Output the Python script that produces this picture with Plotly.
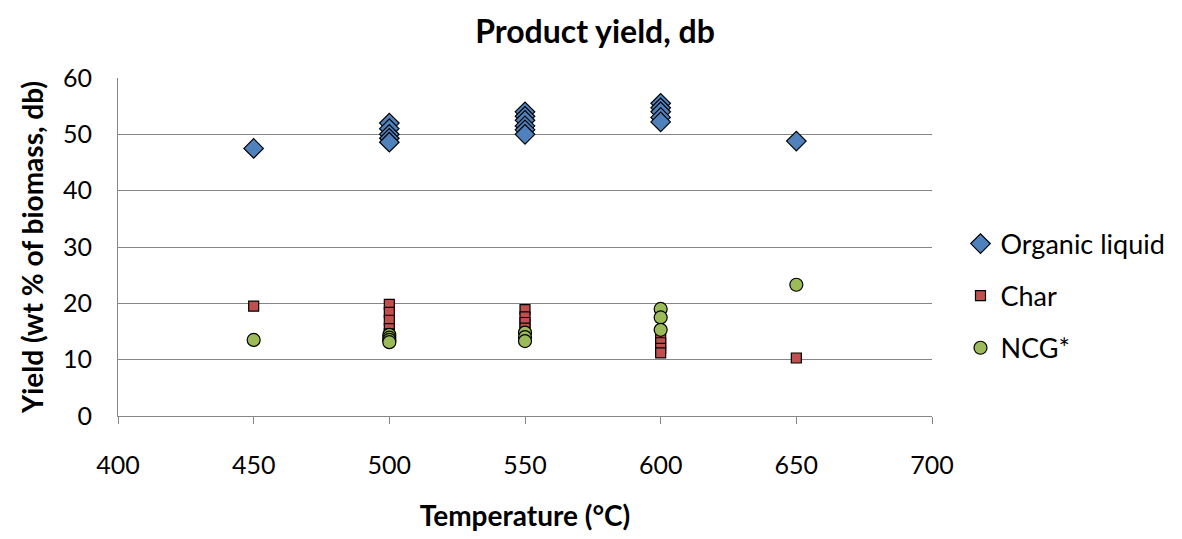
import plotly.graph_objects as go

# Data
org_x = [450, 500, 500, 500, 500, 500, 550, 550, 550, 550, 550, 550, 600, 600, 600, 600, 600, 650]
org_y = [47.5, 52.0, 51.0, 50.0, 49.3, 48.6, 54.0, 53.2, 52.5, 51.5, 50.8, 50.0, 55.5, 54.7, 54.0, 53.0, 52.2, 48.8]

char_x = [450, 500, 500, 500, 500, 500, 550, 550, 550, 550, 600, 600, 600, 600, 650]
char_y = [19.5, 19.8, 18.4, 17.0, 15.5, 14.6, 18.9, 17.6, 16.6, 15.6, 14.0, 13.0, 12.0, 11.2, 10.3]

ncg_x = [450, 500, 500, 500, 500, 550, 550, 550, 600, 600, 600, 650]
ncg_y = [13.5, 14.4, 13.9, 13.5, 13.1, 14.8, 14.0, 13.3, 19.0, 17.5, 15.3, 23.3]

x_ticks = [400, 450, 500, 550, 600, 650, 700]
y_ticks = [0, 10, 20, 30, 40, 50, 60]

FONT = "Lato, 'Open Sans', sans-serif"
GRID = "#868686"

fig = go.Figure()
fig.add_trace(go.Scatter(
    x=org_x, y=org_y, mode="markers", name="Organic liquid", legendgroup="a",
    marker=dict(symbol="diamond", size=15, color="#4F81BD", line=dict(color="black", width=1.2)),
))
fig.add_trace(go.Scatter(
    x=char_x, y=char_y, mode="markers", name="Char", legendgroup="b",
    marker=dict(symbol="square", size=10, color="#C0504D", line=dict(color="black", width=1.2)),
))
fig.add_trace(go.Scatter(
    x=ncg_x, y=ncg_y, mode="markers", name="NCG*", legendgroup="c",
    marker=dict(symbol="circle", size=13, color="#9BBB59", line=dict(color="black", width=1.2)),
))

# The page body has an 8px default margin, so the figure is sized to fit the window
fig.update_layout(
    width=1174, height=531,
    paper_bgcolor="white", plot_bgcolor="white",
    margin=dict(l=110, r=238, t=70, b=116),
    font=dict(family=FONT, size=25, color="black"),
    title=dict(text="<b>Product yield, db</b>", x=0.5, xanchor="center", y=0.955, yanchor="middle",
               font=dict(family=FONT, size=32, color="black")),
    xaxis=dict(range=[400, 700], tickvals=x_ticks, showgrid=False, zeroline=False,
               showline=True, linecolor=GRID, linewidth=1, ticks="outside", ticklen=7,
               tickcolor=GRID, tickfont=dict(size=25), ticklabelstandoff=20,
               title=dict(text="<b>Temperature (°C)</b>", font=dict(size=28), standoff=28)),
    yaxis=dict(range=[0, 60], tickvals=y_ticks, showgrid=True, gridcolor=GRID, gridwidth=1,
               zeroline=False, showline=True, linecolor=GRID, linewidth=1, ticks="",
               tickfont=dict(size=25), ticklabelstandoff=20,
               title=dict(text="<b>Yield (wt % of biomass, db)</b>", font=dict(size=28), standoff=11)),
    legend=dict(x=1.035, xanchor="left", y=0.355, yanchor="middle", traceorder="grouped",
                tracegroupgap=14, font=dict(size=27), bgcolor="rgba(0,0,0,0)", itemwidth=30),
    showlegend=True,
)

fig.write_html("out.html")
